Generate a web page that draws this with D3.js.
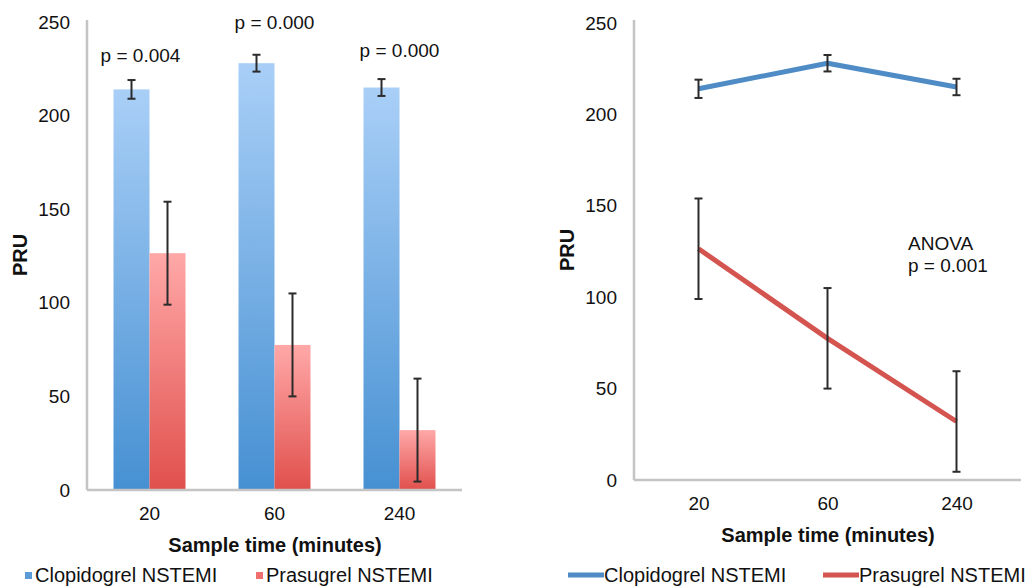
<!DOCTYPE html>
<html><head><meta charset="utf-8">
<script src="https://cdn.jsdelivr.net/npm/d3@7"></script>
<style>
body{margin:0;background:#fff;}
text{font-family:"Liberation Sans",Arial,sans-serif;fill:#111;}
</style></head>
<body><svg id="c" width="1026" height="588"></svg>
<script>
const categories = ["20","60","240"];
const clopidogrel = [214, 228, 215];
const clopidogrelErr = [5, 4.5, 4.5];
const prasugrel = [126.5, 77.5, 32];
const prasugrelErr = [27.5, 27.5, 27.5];
const pLabels = ["p = 0.004","p = 0.000","p = 0.000"];
const pLabelY = [232, 250, 235];
const seriesNames = ["Clopidogrel NSTEMI","Prasugrel NSTEMI"];
const yTicks = [0,50,100,150,200,250];

const svg = d3.select("#c");
const defs = svg.append("defs");
function grad(id, top, bottom){
  const g = defs.append("linearGradient").attr("id",id).attr("x1",0).attr("y1",0).attr("x2",0).attr("y2",1);
  g.append("stop").attr("offset","0%").attr("stop-color",top);
  g.append("stop").attr("offset","100%").attr("stop-color",bottom);
}
grad("gBlue","#a9cff7","#4690d2");
grad("gRed","#ffa8a8","#e0504c");

const FS = 19;
const FT = 20;
const axisColor = "#c4c4c4";

// ---------- Left bar chart ----------
const L = {x0:87, x1:462, y0:490, y1:22};
const yL = d3.scaleLinear().domain([0,250]).range([L.y0, L.y1]);
const xL = d3.scaleBand().domain(categories).range([L.x0, L.x1]).paddingInner(0.424).paddingOuter(0.212);
const xSub = d3.scaleBand().domain([0,1]).range([0, xL.bandwidth()]);

const gl = svg.append("g");
const bars = [clopidogrel, prasugrel];
const errs = [clopidogrelErr, prasugrelErr];
const fills = ["url(#gBlue)","url(#gRed)"];
bars.forEach((vals,s)=>{
  gl.selectAll(null).data(vals).enter().append("rect")
    .attr("x",(d,i)=>xL(categories[i])+xSub(s))
    .attr("width",xSub.bandwidth())
    .attr("y",d=>yL(d))
    .attr("height",d=>yL(0)-yL(d))
    .attr("fill",fills[s]);
});
bars.forEach((vals,s)=>{
  vals.forEach((v,i)=>{
    const cx = xL(categories[i])+xSub(s)+xSub.bandwidth()/2;
    const e = errs[s][i];
    const g = gl.append("g").attr("stroke","#2b2b2b").attr("stroke-width",2);
    g.append("line").attr("x1",cx).attr("x2",cx).attr("y1",yL(v+e)).attr("y2",yL(v-e));
    [v+e,v-e].forEach(t=>g.append("line").attr("x1",cx-4).attr("x2",cx+4).attr("y1",yL(t)).attr("y2",yL(t)));
  });
});
gl.append("line").attr("x1",L.x0).attr("x2",L.x0).attr("y1",L.y0).attr("y2",20).attr("stroke",axisColor).attr("stroke-width",2.5);
gl.append("line").attr("x1",L.x0).attr("x2",L.x1).attr("y1",L.y0).attr("y2",L.y0).attr("stroke",axisColor).attr("stroke-width",2.5);
const axL = gl.append("g").attr("transform",`translate(${L.x0-17},0)`)
  .call(d3.axisLeft(yL).tickValues(yTicks).tickSize(0).tickPadding(0));
axL.select(".domain").remove();
axL.selectAll("text").attr("font-size",FS).attr("font-family","Liberation Sans, Arial, sans-serif").attr("fill","#111");
const axLx = gl.append("g").attr("transform",`translate(0,${L.y0+16})`)
  .call(d3.axisBottom(xL).tickSize(0).tickPadding(0));
axLx.select(".domain").remove();
axLx.selectAll("text").attr("font-size",FS).attr("font-family","Liberation Sans, Arial, sans-serif").attr("fill","#111").attr("dy","0.71em");
gl.selectAll(null).data(pLabels).enter().append("text")
  .attr("x",(d,i)=>xL(categories[i])+xL.bandwidth()/2-(i===0?9:0))
  .attr("y",(d,i)=>yL(pLabelY[i]))
  .attr("text-anchor","middle").attr("font-size",FS).attr("dy","0.35em").text(d=>d);
gl.append("text").attr("transform","translate(27,255) rotate(-90)").attr("text-anchor","middle")
  .attr("font-size",FT).attr("font-weight","bold").text("PRU");
gl.append("text").attr("x",275).attr("y",552).attr("text-anchor","middle")
  .attr("font-size",FT).attr("font-weight","bold").text("Sample time (minutes)");
const legL = [{x:25,t:seriesNames[0],c:"#5b9bd8"},{x:256,t:seriesNames[1],c:"#f07070"}];
legL.forEach(l=>{
  gl.append("rect").attr("x",l.x).attr("y",572).attr("width",7).attr("height",7).attr("fill",l.c);
  gl.append("text").attr("x",l.x+10).attr("y",582).attr("font-size",FT).text(l.t);
});

// ---------- Right line chart ----------
const R = {x0:634, x1:1021, y0:480, y1:23};
const yR = d3.scaleLinear().domain([0,250]).range([R.y0, R.y1]);
const xR = d3.scalePoint().domain(categories).range([R.x0, R.x1]).padding(0.5);
const gr = svg.append("g");
gr.append("line").attr("x1",R.x0).attr("x2",R.x0).attr("y1",R.y0).attr("y2",20).attr("stroke",axisColor).attr("stroke-width",2.5);
gr.append("line").attr("x1",R.x0).attr("x2",R.x1).attr("y1",R.y0).attr("y2",R.y0).attr("stroke",axisColor).attr("stroke-width",2.5);
const axR = gr.append("g").attr("transform",`translate(${R.x0-17},0)`)
  .call(d3.axisLeft(yR).tickValues(yTicks).tickSize(0).tickPadding(0));
axR.select(".domain").remove();
axR.selectAll("text").attr("font-size",FS).attr("font-family","Liberation Sans, Arial, sans-serif").attr("fill","#111");
const axRx = gr.append("g").attr("transform",`translate(0,${R.y0+16})`)
  .call(d3.axisBottom(xR).tickSize(0).tickPadding(0));
axRx.select(".domain").remove();
axRx.selectAll("text").attr("font-size",FS).attr("font-family","Liberation Sans, Arial, sans-serif").attr("fill","#111").attr("dy","0.71em");

const lineColors = ["#4f8cc6","#d4544f"];
const line = d3.line().x((d,i)=>xR(categories[i])).y(d=>yR(d));
bars.forEach((vals,s)=>{
  gr.append("path").datum(vals).attr("d",line).attr("fill","none")
    .attr("stroke",lineColors[s]).attr("stroke-width",5).attr("stroke-linejoin","round");
});
bars.forEach((vals,s)=>{
  vals.forEach((v,i)=>{
    const cx = xR(categories[i]);
    const e = errs[s][i];
    const g = gr.append("g").attr("stroke","#2b2b2b").attr("stroke-width",2);
    g.append("line").attr("x1",cx).attr("x2",cx).attr("y1",yR(v+e)).attr("y2",yR(v-e));
    [v+e,v-e].forEach(t=>g.append("line").attr("x1",cx-4).attr("x2",cx+4).attr("y1",yR(t)).attr("y2",yR(t)));
  });
});
gr.append("text").attr("x",908).attr("y",250).attr("font-size",FS).text("ANOVA");
gr.append("text").attr("x",908).attr("y",272).attr("font-size",FS).text("p = 0.001");
gr.append("text").attr("transform","translate(574,250) rotate(-90)").attr("text-anchor","middle")
  .attr("font-size",FT).attr("font-weight","bold").text("PRU");
gr.append("text").attr("x",828).attr("y",542).attr("text-anchor","middle")
  .attr("font-size",FT).attr("font-weight","bold").text("Sample time (minutes)");
const legR = [{x:568,t:seriesNames[0],c:lineColors[0]},{x:823,t:seriesNames[1],c:lineColors[1]}];
legR.forEach(l=>{
  gr.append("line").attr("x1",l.x).attr("x2",l.x+36).attr("y1",575).attr("y2",575).attr("stroke",l.c).attr("stroke-width",5);
  gr.append("text").attr("x",l.x+36).attr("y",582).attr("font-size",FT).text(l.t);
});
</script></body></html>
